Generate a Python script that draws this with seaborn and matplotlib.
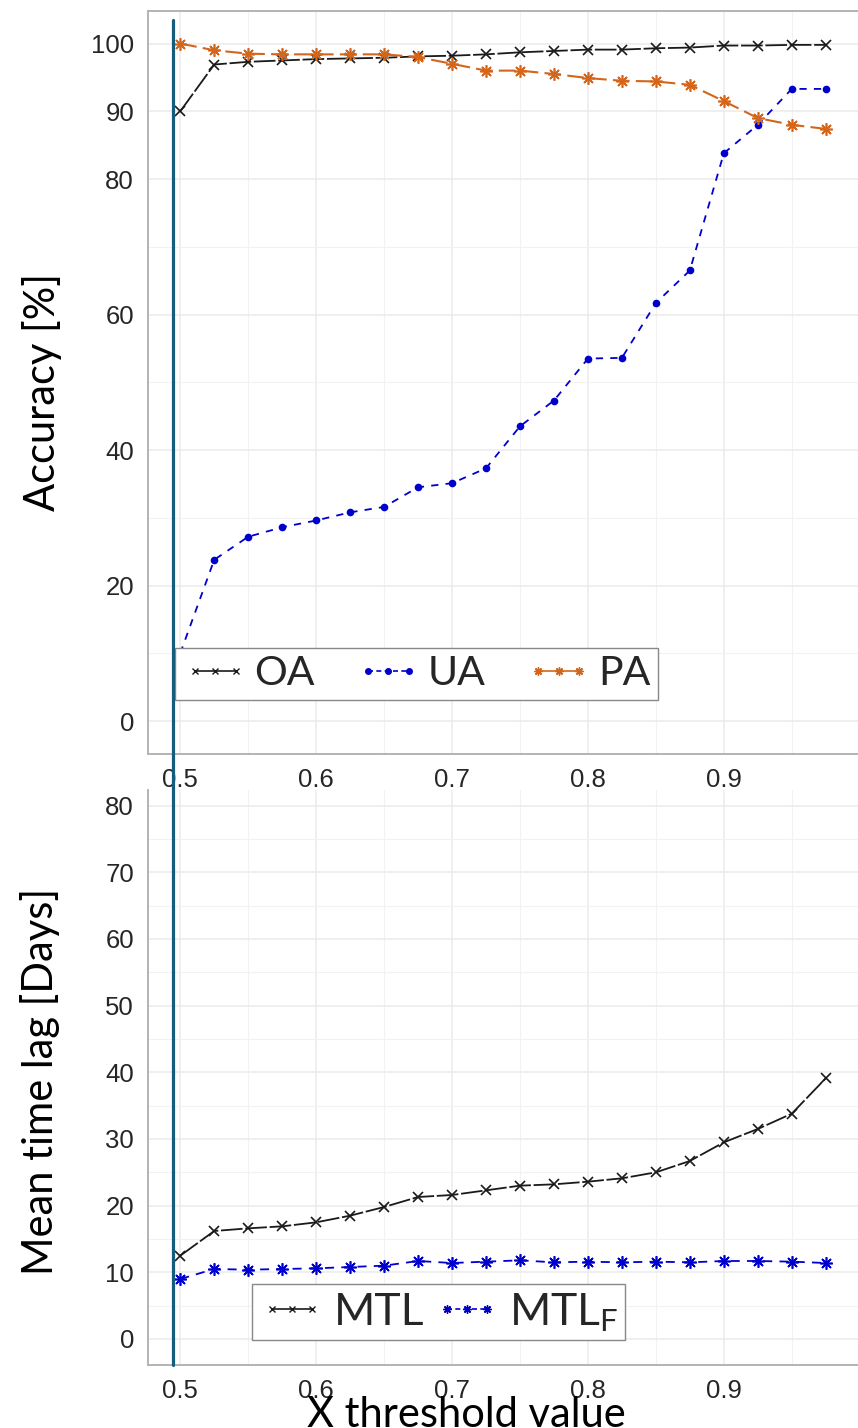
import numpy as np
import pandas as pd
import seaborn as sns
import matplotlib
matplotlib.use("Agg")
import matplotlib.pyplot as plt
from matplotlib.lines import Line2D

# ---------------- data ----------------
threshold = [0.5, 0.525, 0.55, 0.575, 0.6, 0.625, 0.65, 0.675, 0.7, 0.725,
             0.75, 0.775, 0.8, 0.825, 0.85, 0.875, 0.9, 0.925, 0.95, 0.975]
oa = [90.0, 96.9, 97.3, 97.5, 97.7, 97.8, 97.9, 98.1, 98.2, 98.4,
      98.7, 98.9, 99.1, 99.1, 99.3, 99.4, 99.7, 99.7, 99.8, 99.8]
ua = [10.0, 23.8, 27.2, 28.6, 29.6, 30.8, 31.6, 34.5, 35.1, 37.3,
      43.5, 47.3, 53.5, 53.6, 61.7, 66.5, 83.8, 88.0, 93.3, 93.3]
pa = [100.0, 99.0, 98.5, 98.4, 98.4, 98.4, 98.4, 98.0, 97.0, 96.0,
      96.0, 95.5, 94.9, 94.5, 94.4, 93.9, 91.5, 89.0, 88.0, 87.4]
mtl = [12.5, 16.2, 16.6, 16.9, 17.5, 18.5, 19.8, 21.3, 21.6, 22.3,
       23.0, 23.2, 23.6, 24.1, 25.0, 26.7, 29.5, 31.5, 33.8, 39.1]
mtl_f = [9.0, 10.5, 10.4, 10.5, 10.6, 10.8, 11.0, 11.7, 11.4, 11.6,
         11.8, 11.5, 11.6, 11.5, 11.6, 11.5, 11.7, 11.7, 11.6, 11.4]

top_yticks = [0, 20, 40, 60, 80, 90, 100]
bottom_yticks = [0, 10, 20, 30, 40, 50, 60, 70, 80]
xticks = [0.5, 0.6, 0.7, 0.8, 0.9]
xtick_labels = ["0.5", "0.6", "0.7", "0.8", "0.9"]

df = pd.DataFrame({"x": threshold, "OA": oa, "UA": ua, "PA": pa,
                   "MTL": mtl, "MTL_F": mtl_f})

# ---------------- style ----------------
sns.set_theme(style="white")
plt.rcParams["font.family"] = ["Liberation Sans", "DejaVu Sans"]
plt.rcParams["mathtext.fontset"] = "custom"
plt.rcParams["mathtext.rm"] = "Lato"
plt.rcParams["mathtext.it"] = "Lato"

W, H = 858, 1428
fig = plt.figure(figsize=(W / 100, H / 100), dpi=100)

def fx(px):
    return px / W

def fy(py):
    return 1 - py / H

C_BLACK = "#1a1a1a"
C_BLUE = "#0000cc"
C_ORANGE = "#d4661b"
C_TEAL = "#165c7d"
GRID = "#ebebeb"
SPINE = "#b3b3b3"

label_font = ["Lato", "DejaVu Sans"]
ASTER = (8, 2, 0)

def style_axes(ax, top_spine=True):
    ax.spines["right"].set_visible(False)
    ax.spines["top"].set_visible(top_spine)
    for s in ["left", "bottom", "top"]:
        ax.spines[s].set_color(SPINE)
        ax.spines[s].set_linewidth(1.4)
    ax.tick_params(axis="both", which="major", length=6, width=1.3,
                   color="#333333", labelcolor="#262626", labelsize=18.5, pad=4)
    ax.tick_params(axis="both", which="minor", length=0)
    ax.grid(True, which="major", color=GRID, lw=1.1)
    ax.grid(True, which="minor", color="#f2f2f2", lw=0.8)
    ax.set_axisbelow(True)
    ax.set_xlabel("")
    ax.set_ylabel("")

def draw(ax, col, color, marker, ms, ls, lw=1.3, mew=1.2):
    sns.lineplot(data=df, x="x", y=col, ax=ax, color=color, marker=marker,
                 markersize=ms, markeredgewidth=mew,
                 markeredgecolor=color, markerfacecolor=color,
                 lw=lw, linestyle=ls, legend=False)

# ---------------- bottom panel ----------------
ax2 = fig.add_axes([fx(148), fy(1365), fx(858 - 148), (1365 - 790) / H])
draw(ax2, "MTL", C_BLACK, "x", 7, (0, (12, 1.5)))
draw(ax2, "MTL_F", C_BLUE, ASTER, 9, (0, (5, 4)))
ax2.set_xlim(0.47625, 0.99875)
ax2.set_ylim(-3.9, 82.35)
ax2.set_xticks(xticks)
ax2.set_xticklabels(xtick_labels)
ax2.set_xticks(np.arange(0.55, 1.0, 0.1), minor=True)
ax2.set_yticks(bottom_yticks)
ax2.set_yticks(np.arange(5, 82, 10), minor=True)
style_axes(ax2, top_spine=False)

# ---------------- top panel ----------------
ax1 = fig.add_axes([fx(148), fy(754), fx(858 - 148), (754 - 11) / H])
draw(ax1, "OA", C_BLACK, "x", 7, (0, (12, 1.5)))
draw(ax1, "UA", C_BLUE, "o", 5.5, (0, (4, 4)), mew=0)
draw(ax1, "PA", C_ORANGE, ASTER, 9, (0, (8, 3)), lw=1.5)
ax1.set_xlim(0.47625, 0.99875)
ax1.set_ylim(-4.87, 104.8)
ax1.set_xticks(xticks)
ax1.set_xticklabels(xtick_labels)
ax1.set_xticks(np.arange(0.55, 1.0, 0.1), minor=True)
ax1.set_yticks(top_yticks)
ax1.set_yticks([10, 30, 50, 70], minor=True)
style_axes(ax1, top_spine=True)

# ---------------- legends ----------------
def handle(color, marker, ls, ms=4):
    return Line2D([], [], color=color, marker=marker, linestyle=ls, lw=1.2,
                  markersize=ms, markeredgewidth=1.0,
                  markeredgecolor=color, markerfacecolor=color)

h_top = [handle(C_BLACK, "x", "-"), handle(C_BLUE, "o", (0, (3, 2))),
         handle(C_ORANGE, ASTER, "-", ms=6)]
leg1 = ax1.legend(h_top, ["OA", "UA", "PA"], ncol=3, numpoints=3,
                  loc="upper left", bbox_to_anchor=(fx(175), fy(648)),
                  bbox_transform=fig.transFigure, borderaxespad=0,
                  prop={"family": label_font, "size": 29.5},
                  handlelength=1.6, handletextpad=0.15, columnspacing=1.0,
                  borderpad=0.18, frameon=True, fancybox=False, framealpha=1)
leg1.get_frame().set_edgecolor("#888888")
leg1.get_frame().set_linewidth(1.0)

h_bot = [handle(C_BLACK, "x", "-"), handle(C_BLUE, ASTER, (0, (3, 2)), ms=6)]
leg2 = ax2.legend(h_bot, ["MTL", "MTL$_{\\mathrm{F}}$"], ncol=2, numpoints=3,
                  loc="upper left", bbox_to_anchor=(fx(252), fy(1284)),
                  bbox_transform=fig.transFigure, borderaxespad=0,
                  prop={"family": label_font, "size": 32},
                  handlelength=1.5, handletextpad=0.2, columnspacing=0.2,
                  borderpad=0.15, frameon=True, fancybox=False, framealpha=1)
leg2.get_frame().set_edgecolor("#888888")
leg2.get_frame().set_linewidth(1.0)

# ---------------- labels ----------------
fig.text(fx(42), fy(392), "Accuracy [%]", rotation=90, ha="center", va="center",
         family=label_font, fontsize=30, color="black")
fig.text(fx(40), fy(1081), "Mean time lag [Days]", rotation=90, ha="center",
         va="center", family=label_font, fontsize=30, color="black")
fig.text(fx(466), fy(1427), "X threshold value", ha="center", va="baseline",
         family=label_font, fontsize=30, color="black")

# ---------------- vertical marker line ----------------
fig.add_artist(Line2D([fx(173), fx(173)], [fy(20), fy(1365)],
                      transform=fig.transFigure, color=C_TEAL, lw=2.3, zorder=10))

fig.savefig("out.png", dpi=100)
